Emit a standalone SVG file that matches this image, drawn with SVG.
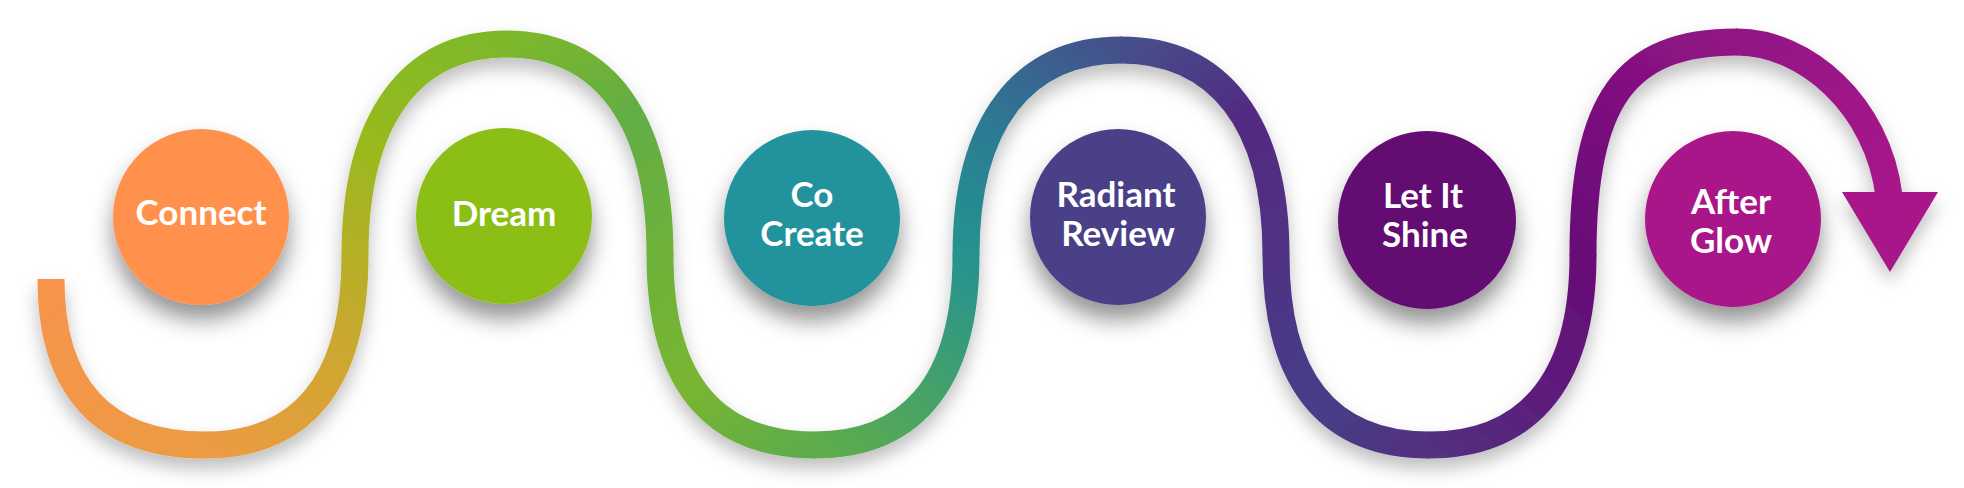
<svg xmlns="http://www.w3.org/2000/svg" width="1964" height="488" viewBox="0 0 1964 488">
<defs>
<style>
.seg{fill:none;stroke-width:27;stroke-linecap:butt;stroke-linejoin:round}
.lbl{font-family:Lato,"Open Sans","Liberation Sans",sans-serif;font-weight:700;font-size:35px;fill:#ffffff;text-anchor:middle}
</style>
<filter id="pathShadow" x="-10%" y="-20%" width="120%" height="150%">
<feDropShadow dx="0" dy="10" stdDeviation="9" flood-color="#000" flood-opacity="0.26"/>
</filter>
<filter id="nodeShadow" x="-40%" y="-40%" width="180%" height="190%">
<feDropShadow dx="0" dy="15" stdDeviation="11" flood-color="#000" flood-opacity="0.42"/>
</filter>
<linearGradient id="g1" gradientUnits="userSpaceOnUse" x1="51" y1="279" x2="205" y2="445"><stop offset="0" stop-color="#F7944B"/><stop offset="1" stop-color="#EC9B43"/></linearGradient>
<linearGradient id="g2" gradientUnits="userSpaceOnUse" x1="205" y1="445" x2="355" y2="255"><stop offset="0" stop-color="#EC9B43"/><stop offset="0.5" stop-color="#D6A434"/><stop offset="1" stop-color="#B6AF28"/></linearGradient>
<linearGradient id="g3" gradientUnits="userSpaceOnUse" x1="355" y1="255" x2="507" y2="44"><stop offset="0" stop-color="#B6AF28"/><stop offset="0.4" stop-color="#97BA1D"/><stop offset="1" stop-color="#7DB82B"/></linearGradient>
<linearGradient id="g4" gradientUnits="userSpaceOnUse" x1="507" y1="44" x2="660" y2="255"><stop offset="0" stop-color="#7DB82B"/><stop offset="0.5" stop-color="#63AD46"/><stop offset="1" stop-color="#6EB23A"/></linearGradient>
<linearGradient id="g5" gradientUnits="userSpaceOnUse" x1="660" y1="255" x2="815" y2="445"><stop offset="0" stop-color="#6EB23A"/><stop offset="0.5" stop-color="#78B532"/><stop offset="1" stop-color="#5EAC4C"/></linearGradient>
<linearGradient id="g6" gradientUnits="userSpaceOnUse" x1="815" y1="445" x2="966" y2="255"><stop offset="0" stop-color="#5EAC4C"/><stop offset="0.5" stop-color="#43A16B"/><stop offset="1" stop-color="#25938F"/></linearGradient>
<linearGradient id="g7" gradientUnits="userSpaceOnUse" x1="966" y1="255" x2="1121" y2="50"><stop offset="0" stop-color="#25938F"/><stop offset="0.45" stop-color="#2C7A94"/><stop offset="1" stop-color="#45508B"/></linearGradient>
<linearGradient id="g8" gradientUnits="userSpaceOnUse" x1="1121" y1="50" x2="1276" y2="255"><stop offset="0" stop-color="#45508B"/><stop offset="0.5" stop-color="#522A81"/><stop offset="1" stop-color="#4F3284"/></linearGradient>
<linearGradient id="g9" gradientUnits="userSpaceOnUse" x1="1276" y1="255" x2="1429" y2="445"><stop offset="0" stop-color="#4F3284"/><stop offset="0.6" stop-color="#473E88"/><stop offset="1" stop-color="#52307F"/></linearGradient>
<linearGradient id="g10" gradientUnits="userSpaceOnUse" x1="1429" y1="445" x2="1583" y2="255"><stop offset="0" stop-color="#52307F"/><stop offset="0.5" stop-color="#5E1A7B"/><stop offset="1" stop-color="#680C78"/></linearGradient>
<linearGradient id="g11" gradientUnits="userSpaceOnUse" x1="1583" y1="255" x2="1737" y2="42"><stop offset="0" stop-color="#680C78"/><stop offset="0.5" stop-color="#7C0F7E"/><stop offset="1" stop-color="#921485"/></linearGradient>
<linearGradient id="g12" gradientUnits="userSpaceOnUse" x1="1737" y1="42" x2="1889" y2="194"><stop offset="0" stop-color="#921485"/><stop offset="1" stop-color="#A8168A"/></linearGradient>
</defs>
<rect width="1964" height="488" fill="#ffffff"/>
<g id="connectors" filter="url(#pathShadow)">
<path class="seg" stroke="url(#g1)" d="M51 279 C51 390 105 445 205 445"/>
<path class="seg" stroke="url(#g2)" d="M204 445 L205 445 C300 445 355 385 355 255"/>
<path class="seg" stroke="url(#g3)" d="M355 256 L355 255 C355 120 410 44 507 44"/>
<path class="seg" stroke="url(#g4)" d="M506 44 L507 44 C604 44 660 120 660 255"/>
<path class="seg" stroke="url(#g5)" d="M660 254 L660 255 C660 390 720 445 815 445"/>
<path class="seg" stroke="url(#g6)" d="M814 445 L815 445 C905 445 966 390 966 255"/>
<path class="seg" stroke="url(#g7)" d="M966 256 L966 255 C966 122 1024 50 1121 50"/>
<path class="seg" stroke="url(#g8)" d="M1120 50 L1121 50 C1218 50 1276 122 1276 255"/>
<path class="seg" stroke="url(#g9)" d="M1276 254 L1276 255 C1276 390 1336 445 1429 445"/>
<path class="seg" stroke="url(#g10)" d="M1428 445 L1429 445 C1520 445 1583 390 1583 255"/>
<path class="seg" stroke="url(#g11)" d="M1583 256 L1583 255 C1583 100 1625 42 1737 42"/>
<path class="seg" stroke="url(#g12)" d="M1736 42 L1737 42 C1805 42 1878 105 1889 196"/>
<polygon points="1842,192 1938,192 1890,272" fill="#A8168A"/>
</g>
<g id="node-connect">
<circle cx="201" cy="217" r="88" fill="#FF914D" filter="url(#nodeShadow)"/>
<text class="lbl" x="201" y="225">Connect</text>
</g>
<g id="node-dream">
<circle cx="504" cy="216" r="88" fill="#8CBF15" filter="url(#nodeShadow)"/>
<text class="lbl" x="504" y="226">Dream</text>
</g>
<g id="node-cocreate">
<circle cx="812" cy="218" r="88" fill="#21929C" filter="url(#nodeShadow)"/>
<text class="lbl"><tspan x="812" y="207">Co</tspan><tspan x="812" y="246">Create</tspan></text>
</g>
<g id="node-radiant">
<circle cx="1118" cy="217" r="88" fill="#4A3F87" filter="url(#nodeShadow)"/>
<text class="lbl"><tspan x="1116" y="207">Radiant</tspan><tspan x="1118" y="246">Review</tspan></text>
</g>
<g id="node-shine">
<circle cx="1427" cy="220" r="89" fill="#630872" filter="url(#nodeShadow)"/>
<text class="lbl"><tspan x="1423" y="208">Let It</tspan><tspan x="1425" y="247">Shine</tspan></text>
</g>
<g id="node-afterglow">
<circle cx="1733" cy="219" r="88" fill="#A9168A" filter="url(#nodeShadow)"/>
<text class="lbl"><tspan x="1731" y="214">After</tspan><tspan x="1731" y="253">Glow</tspan></text>
</g>
</svg>
